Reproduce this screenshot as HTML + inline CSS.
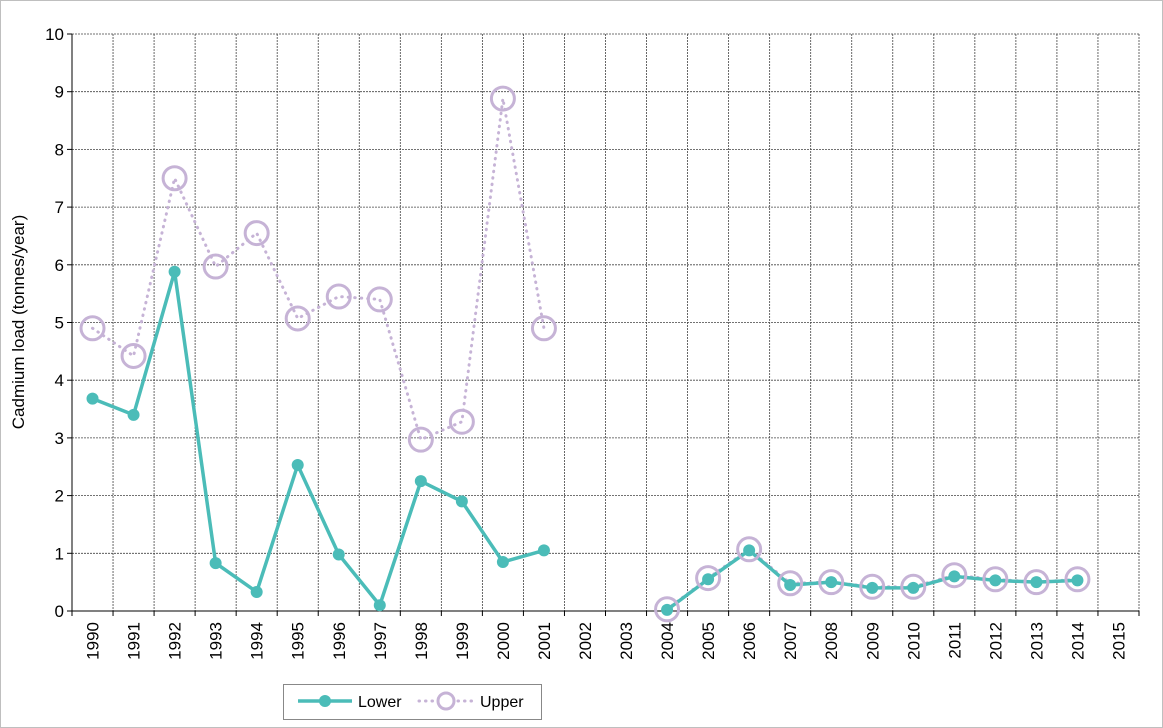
<!DOCTYPE html>
<html><head><meta charset="utf-8"><style>
html,body{margin:0;padding:0;background:#fff}
svg{display:block;font-family:"Liberation Sans",Arial,sans-serif}
</style></head><body>
<svg id="c" width="1163" height="728" xmlns="http://www.w3.org/2000/svg">
<rect x="0.5" y="0.5" width="1162" height="727" fill="#fff" stroke="#bfbfbf"/>
</svg>
<script>
const s=document.getElementById('c'),NS='http://www.w3.org/2000/svg';
function el(t,a,txt){const e=document.createElementNS(NS,t);for(const k in a)e.setAttribute(k,a[k]);if(txt!=null)e.textContent=txt;s.appendChild(e);return e;}
const L=72,R=1139,T=34,B=611,n=26,w=(R-L)/n;
const Y=v=>B-(B-T)*v/10, X=i=>L+w*(i+0.5);
for(let i=1;i<=10;i++)el('line',{x1:L,x2:R,y1:Y(i),y2:Y(i),stroke:'#444','stroke-width':0.8,'stroke-dasharray':'2,1'});
for(let i=1;i<=n;i++)el('line',{x1:L+w*i,x2:L+w*i,y1:T,y2:B,stroke:'#444','stroke-width':0.8,'stroke-dasharray':'2,1'});
el('line',{x1:L,x2:L,y1:T,y2:B,stroke:'#000','stroke-width':1});
el('line',{x1:L,x2:R,y1:B,y2:B,stroke:'#000','stroke-width':1});
for(let i=0;i<=10;i++){el('line',{x1:L-5,x2:L,y1:Y(i),y2:Y(i),stroke:'#000'});el('text',{x:L-8,y:Y(i)+6,'text-anchor':'end','font-size':17},i);}
for(let i=0;i<=n;i++)el('line',{x1:L+w*i,x2:L+w*i,y1:B,y2:B+5,stroke:'#000'});
for(let i=0;i<n;i++){const x=X(i)+6,y=622;el('text',{x:x,y:y,'font-size':17,'text-anchor':'end',transform:`rotate(-90 ${x} ${y})`},1990+i);}
el('text',{x:24,y:322,'font-size':17,'text-anchor':'middle',transform:'rotate(-90 24 322)'},'Cadmium load (tonnes/year)');
const lo={0:3.68,1:3.4,2:5.88,3:0.83,4:0.33,5:2.53,6:0.98,7:0.1,8:2.25,9:1.9,10:0.85,11:1.05,14:0.02,15:0.55,16:1.05,17:0.45,18:0.5,19:0.4,20:0.4,21:0.6,22:0.53,23:0.5,24:0.53};
const up={0:4.9,1:4.42,2:7.5,3:5.97,4:6.55,5:5.07,6:5.45,7:5.4,8:2.97,9:3.28,10:8.88,11:4.9,14:0.03,15:0.57,16:1.07,17:0.48,18:0.5,19:0.42,20:0.42,21:0.62,22:0.55,23:0.5,24:0.55};
function segs(d){let out=[],cur=[];for(let i=0;i<n;i++){if(d[i]!=null)cur.push(X(i)+','+Y(d[i]));else{if(cur.length)out.push(cur);cur=[];}}if(cur.length)out.push(cur);return out;}
segs(up).forEach(p=>el('polyline',{points:p.join(' '),fill:'none',stroke:'#c6b3d6','stroke-width':3,'stroke-dasharray':'0.5,6','stroke-linecap':'round'}));
segs(lo).forEach(p=>el('polyline',{points:p.join(' '),fill:'none',stroke:'#4bbcb8','stroke-width':3.5}));
for(const k in up)el('circle',{cx:X(+k),cy:Y(up[k]),r:11.5,fill:'none',stroke:'#c6b3d6','stroke-width':3});
for(const k in lo)el('circle',{cx:X(+k),cy:Y(lo[k]),r:6,fill:'#4bbcb8'});
el('rect',{x:283.5,y:684.5,width:258,height:35,fill:'#fff',stroke:'#888'});
el('line',{x1:298,x2:352,y1:701,y2:701,stroke:'#4bbcb8','stroke-width':3.5});
el('circle',{cx:325,cy:701,r:6,fill:'#4bbcb8'});
el('text',{x:358,y:707,'font-size':16},'Lower');
el('line',{x1:419,x2:473,y1:701,y2:701,stroke:'#c6b3d6','stroke-width':3,'stroke-dasharray':'0.5,6','stroke-linecap':'round'});
el('circle',{cx:446,cy:701,r:8,fill:'#fff',stroke:'#c6b3d6','stroke-width':3});
el('text',{x:480,y:707,'font-size':16},'Upper');
</script>
</body></html>
